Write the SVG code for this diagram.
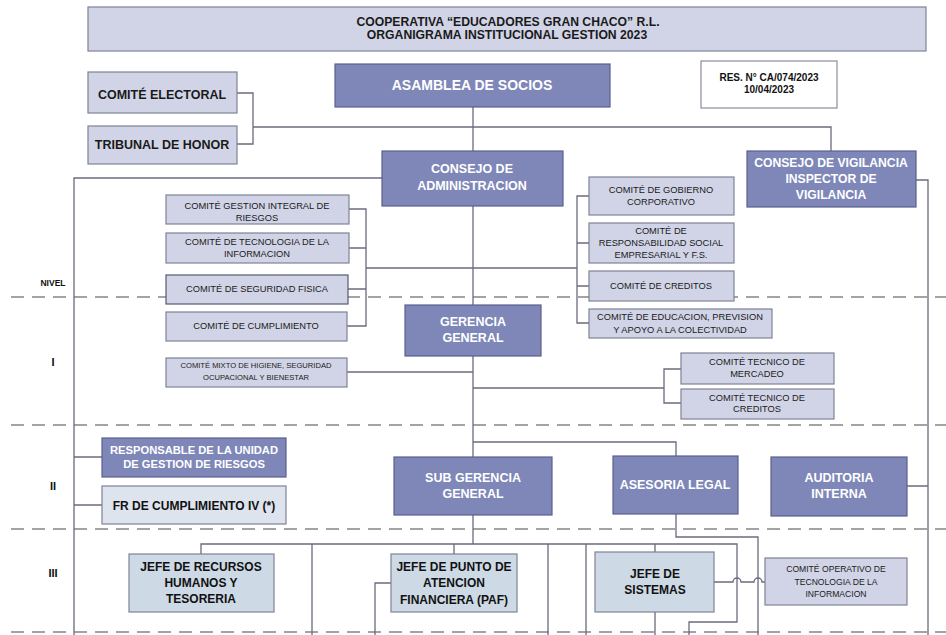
<svg xmlns="http://www.w3.org/2000/svg" width="946" height="635" viewBox="0 0 946 635">
<style>
  text { font-family: "Liberation Sans", Arial, sans-serif; text-anchor: middle; dominant-baseline: central; }
  .dark rect { fill: #7e87b8; stroke: #5a6090; stroke-width: 1.2; }
  .dark text { fill: #ffffff; font-weight: bold; font-size: 12.5px; }
  .lite rect { fill: #d1d4e6; stroke: #7f8296; stroke-width: 1.2; }
  .lite text { fill: #1a1a1a; font-size: 9.3px; }
  .blue rect { fill: #cdd9e5; stroke: #7f8296; stroke-width: 1.2; }
  .blue text { fill: #111111; font-weight: bold; font-size: 12px; }
  .conn { fill: none; stroke: #6b6b7e; stroke-width: 1.3; }
  .dash { fill: none; stroke: #a3a3a3; stroke-width: 1.8; stroke-dasharray: 13 8; }
  .lvl { fill: #111; font-weight: bold; font-size: 11px; }
</style>

<g id="levels">
  <line class="dash" x1="11" y1="297" x2="946" y2="297"/>
  <line class="dash" x1="11" y1="425" x2="946" y2="425"/>
  <line class="dash" x1="11" y1="529" x2="946" y2="529"/>
  <line class="dash" x1="11" y1="632" x2="946" y2="632"/>
  <text class="lvl" x="53" y="283" style="font-size:8.5px">NIVEL</text>
  <text class="lvl" x="53" y="362">I</text>
  <text class="lvl" x="53" y="486">II</text>
  <text class="lvl" x="53" y="573">III</text>
</g>

<g id="connectors">
  <path class="conn" d="M473,107 V544"/>
  <path class="conn" d="M237,93 H253 V144 H237 M253,127 H831 V151"/>
  <path class="conn" d="M382,178 H74 V635"/>
  <path class="conn" d="M916,180 H928 V635 M907,486 H928"/>
  <path class="conn" d="M349,209 H366 V326 H347 M349,248 H366 M348,289 H366 M366,268 H577"/>
  <path class="conn" d="M589,196 H577 V323 H589 M589,243 H577 M589,286 H577"/>
  <path class="conn" d="M347,372 H473"/>
  <path class="conn" d="M473,388 H664 M681,369 H664 V403 H681"/>
  <path class="conn" d="M74,457 H102 M74,505 H102"/>
  <path class="conn" d="M473,442 H676 V456 M676,514 V537 H758 V635"/>
  <path class="conn" d="M201,554 V544 H737 V622 H689 V635"/>
  <path class="conn" d="M312,544 V635 M454,544 V554 M548,544 V635 M586,544 V635 M655,544 V552 M655,612 V635"/>
  <path class="conn" d="M391,583 H375 V635"/>
  <path class="conn" d="M714,582 H733 a4,4 0 0 1 8,0 H754 a4,4 0 0 1 8,0 H765"/>
</g>

<g id="title" class="lite">
  <rect x="88" y="7" width="838" height="44"/>
  <text x="508" y="21.5" style="font-weight:bold;font-size:12.2px">COOPERATIVA “EDUCADORES GRAN CHACO” R.L.</text>
  <text x="507" y="34.5" style="font-weight:bold;font-size:12.2px">ORGANIGRAMA INSTITUCIONAL GESTION 2023</text>
</g>

<g id="res">
  <rect x="701" y="61" width="136" height="47" fill="#ffffff" stroke="#8a8d99" stroke-width="1.2"/>
  <text x="769" y="77" style="font-weight:bold;font-size:10px;fill:#111">RES. N° CA/074/2023</text>
  <text x="769" y="89.5" style="font-weight:bold;font-size:10px;fill:#111">10/04/2023</text>
</g>

<g id="asamblea" class="dark">
  <rect x="335" y="64" width="275" height="43"/>
  <text x="472" y="85" style="font-size:14px">ASAMBLEA DE SOCIOS</text>
</g>

<g id="comite-electoral" class="lite">
  <rect x="88" y="72" width="149" height="41"/>
  <text x="162" y="94.5" style="font-weight:bold;font-size:12.5px">COMITÉ ELECTORAL</text>
</g>

<g id="tribunal-honor" class="lite">
  <rect x="88" y="126" width="149" height="38"/>
  <text x="162" y="144.5" style="font-weight:bold;font-size:12.5px">TRIBUNAL DE HONOR</text>
</g>

<g id="consejo-administracion" class="dark">
  <rect x="382" y="151" width="181" height="55"/>
  <text x="472" y="169">CONSEJO DE</text>
  <text x="472" y="186">ADMINISTRACION</text>
</g>

<g id="consejo-vigilancia" class="dark">
  <rect x="747" y="151" width="169" height="56"/>
  <text x="831" y="162.5" style="font-size:12.2px">CONSEJO DE VIGILANCIA</text>
  <text x="831" y="178.5" style="font-size:12.2px">INSPECTOR DE</text>
  <text x="831" y="195" style="font-size:12.2px">VIGILANCIA</text>
</g>

<g id="comite-gestion-riesgos" class="lite">
  <rect x="166" y="195" width="183" height="29"/>
  <text x="257" y="205.5">COMITÉ GESTION INTEGRAL DE</text>
  <text x="257" y="218">RIESGOS</text>
</g>

<g id="comite-tecnologia" class="lite">
  <rect x="166" y="233" width="183" height="30"/>
  <text x="257" y="241.5">COMITÉ DE TECNOLOGIA DE LA</text>
  <text x="257" y="253.5">INFORMACION</text>
</g>

<g id="comite-seguridad-fisica" class="lite">
  <rect x="166" y="275" width="182" height="29" style="stroke:#555a70"/>
  <text x="257" y="288.5">COMITÉ DE SEGURIDAD FISICA</text>
</g>

<g id="comite-cumplimiento" class="lite">
  <rect x="166" y="312" width="181" height="29"/>
  <text x="256" y="325.5">COMITÉ DE CUMPLIMIENTO</text>
</g>

<g id="comite-mixto" class="lite">
  <rect x="166" y="358" width="181" height="29"/>
  <text x="256" y="365.5" style="font-size:7.6px">COMITÉ MIXTO DE HIGIENE, SEGURIDAD</text>
  <text x="256" y="377.5" style="font-size:7.6px">OCUPACIONAL Y BIENESTAR</text>
</g>

<g id="comite-gobierno" class="lite">
  <rect x="589" y="177" width="145" height="38"/>
  <text x="661" y="189.5">COMITÉ DE GOBIERNO</text>
  <text x="661" y="201.5">CORPORATIVO</text>
</g>

<g id="comite-rse" class="lite">
  <rect x="589" y="223" width="145" height="40"/>
  <text x="661" y="231">COMITÉ DE</text>
  <text x="661" y="242.5">RESPONSABILIDAD SOCIAL</text>
  <text x="661" y="255">EMPRESARIAL Y F.S.</text>
</g>

<g id="comite-creditos" class="lite">
  <rect x="589" y="271" width="145" height="30"/>
  <text x="661" y="285.5">COMITÉ DE CREDITOS</text>
</g>

<g id="comite-educacion" class="lite">
  <rect x="589" y="309" width="183" height="29"/>
  <text x="680" y="317">COMITÉ DE EDUCACION, PREVISION</text>
  <text x="680" y="329.5">Y APOYO A LA COLECTIVIDAD</text>
</g>

<g id="gerencia-general" class="dark">
  <rect x="405" y="305" width="136" height="51"/>
  <text x="473" y="322">GERENCIA</text>
  <text x="473" y="338">GENERAL</text>
</g>

<g id="comite-tecnico-mercadeo" class="lite">
  <rect x="681" y="353" width="153" height="31"/>
  <text x="757" y="362">COMITÉ TECNICO DE</text>
  <text x="757" y="374">MERCADEO</text>
</g>

<g id="comite-tecnico-creditos" class="lite">
  <rect x="681" y="389" width="153" height="30"/>
  <text x="757" y="397.5">COMITÉ TECNICO DE</text>
  <text x="757" y="409">CREDITOS</text>
</g>

<g id="responsable-riesgos" class="dark">
  <rect x="102" y="438" width="184" height="39"/>
  <text x="194" y="449.5" style="font-size:11.2px">RESPONSABLE DE LA UNIDAD</text>
  <text x="194" y="464" style="font-size:11.2px">DE GESTION DE RIESGOS</text>
</g>

<g id="fr-cumplimiento" class="blue">
  <rect x="102" y="486" width="184" height="38" style="fill:#dde4ee"/>
  <text x="194" y="505.5">FR DE CUMPLIMIENTO IV (*)</text>
</g>

<g id="sub-gerencia" class="dark">
  <rect x="394" y="457" width="158" height="58"/>
  <text x="473" y="477.5">SUB GERENCIA</text>
  <text x="473" y="494">GENERAL</text>
</g>

<g id="asesoria-legal" class="dark">
  <rect x="613" y="456" width="125" height="58"/>
  <text x="675" y="484.5">ASESORIA LEGAL</text>
</g>

<g id="auditoria-interna" class="dark">
  <rect x="771" y="457" width="136" height="59"/>
  <text x="839" y="477.5">AUDITORIA</text>
  <text x="839" y="493.5">INTERNA</text>
</g>

<g id="jefe-rrhh" class="blue">
  <rect x="129" y="554" width="145" height="58"/>
  <text x="201" y="566.5">JEFE DE RECURSOS</text>
  <text x="201" y="582.5">HUMANOS Y</text>
  <text x="201" y="598.5">TESORERIA</text>
</g>

<g id="jefe-paf" class="blue">
  <rect x="391" y="554" width="126" height="58"/>
  <text x="454" y="566.5">JEFE DE PUNTO DE</text>
  <text x="454" y="583">ATENCION</text>
  <text x="454" y="600">FINANCIERA (PAF)</text>
</g>

<g id="jefe-sistemas" class="blue">
  <rect x="595" y="552" width="119" height="60"/>
  <text x="655" y="573.5">JEFE DE</text>
  <text x="655" y="590">SISTEMAS</text>
</g>

<g id="comite-operativo-ti" class="lite">
  <rect x="765" y="558" width="142" height="47"/>
  <text x="836" y="569" style="font-size:8.6px">COMITÉ OPERATIVO DE</text>
  <text x="836" y="581.5" style="font-size:8.6px">TECNOLOGIA DE LA</text>
  <text x="836" y="593.5" style="font-size:8.6px">INFORMACION</text>
</g>
</svg>
